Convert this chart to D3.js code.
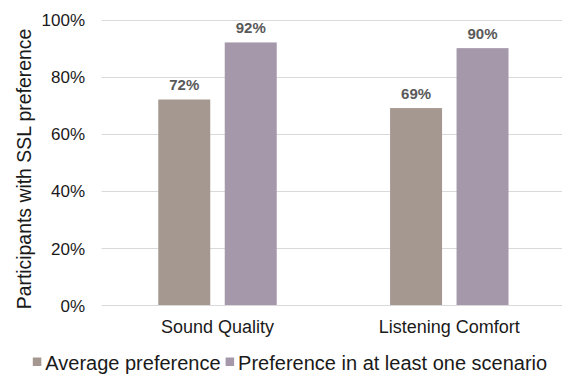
<!DOCTYPE html>
<html>
<head>
<meta charset="utf-8">
<script src="https://cdn.jsdelivr.net/npm/d3@7"></script>
<style>
  html, body { margin: 0; padding: 0; background: #fff; }
  svg { display: block; font-family: "Liberation Sans", Arial, sans-serif; }
</style>
</head>
<body>
<svg id="chart" width="562" height="374"></svg>
<script>
// Categories, series and values
const categories = ["Sound Quality", "Listening Comfort"];
const seriesNames = ["Average preference", "Preference in at least one scenario"];
const averagePreference = [72, 69];
const preferenceAtLeastOne = [92, 90];
const yTicks = [0, 20, 40, 60, 80, 100];
const seriesColors = ["#a59890", "#a598aa"];

const seriesValues = [averagePreference, preferenceAtLeastOne];
const rows = categories.map((c, i) => ({
  category: c,
  values: seriesNames.map((s, j) => ({ series: s, value: seriesValues[j][i], idx: j }))
}));

const svg = d3.select("#chart");
const W = 562, H = 374;
const plot = { left: 101.6, right: 565.2, top: 19.6, bottom: 305 };
const FONT = "'Liberation Sans', Arial, sans-serif";

const y = d3.scaleLinear().domain([0, 100]).range([plot.bottom, plot.top]);
const x0 = d3.scaleBand().domain(categories)
  .range([plot.left, plot.right]).paddingInner(0.489).paddingOuter(0.2445);
const x1 = d3.scaleBand().domain(seriesNames)
  .range([0, x0.bandwidth()]).paddingInner(0.218).paddingOuter(0);

// Gridlines
svg.append("g")
  .selectAll("line")
  .data(yTicks)
  .join("line")
  .attr("x1", plot.left)
  .attr("x2", W)
  .attr("y1", d => Math.round(y(d)) + 0.5)
  .attr("y2", d => Math.round(y(d)) + 0.5)
  .attr("stroke", "#d9d9d9")
  .attr("stroke-width", 1.2);

// Y axis tick labels
const yAxis = d3.axisLeft(y).tickValues(yTicks).tickFormat(d => d + "%").tickSize(0).tickPadding(0);
const gy = svg.append("g").attr("transform", "translate(85,0)").call(yAxis);
gy.attr("font-size", null).attr("font-family", null);
gy.select(".domain").remove();
gy.selectAll("text")
  .style("font-size", "17px")
  .style("font-family", FONT)
  .attr("fill", "#1a1a1a")
  .attr("dy", "0.36em");

// Y axis title
svg.append("text")
  .attr("transform", `translate(31,169) rotate(-90)`)
  .attr("text-anchor", "middle")
  .style("font-size", "19.4px")
  .attr("fill", "#1a1a1a")
  .text("Participants with SSL preference");

// Bars
const groups = svg.append("g")
  .selectAll("g")
  .data(rows)
  .join("g")
  .attr("transform", d => `translate(${x0(d.category)},0)`);

groups.selectAll("rect")
  .data(d => d.values)
  .join("rect")
  .attr("x", d => x1(d.series))
  .attr("width", x1.bandwidth())
  .attr("y", d => y(d.value))
  .attr("height", d => y(0) - y(d.value))
  .attr("fill", d => seriesColors[d.idx]);

// Value labels
groups.selectAll("text")
  .data(d => d.values)
  .join("text")
  .attr("x", d => x1(d.series) + x1.bandwidth() / 2)
  .attr("y", d => y(d.value) - 9.5)
  .attr("text-anchor", "middle")
  .style("font-size", "15px")
  .attr("font-weight", "bold")
  .attr("fill", "#595959")
  .text(d => d.value + "%");

// Category axis labels
const xAxis = d3.axisBottom(x0).tickSize(0).tickPadding(0);
const gx = svg.append("g").attr("transform", "translate(0,333)").call(xAxis);
gx.attr("font-size", null).attr("font-family", null);
gx.select(".domain").remove();
gx.selectAll("text")
  .style("font-size", "18px")
  .style("font-family", FONT)
  .attr("fill", "#1a1a1a")
  .attr("dy", 0);

// Legend
const legend = svg.append("g").attr("transform", "translate(0,370)");
const items = legend.selectAll("g")
  .data(seriesNames)
  .join("g");
items.append("rect")
  .attr("width", 8.5)
  .attr("height", 8.5)
  .attr("y", -12.5)
  .attr("fill", (d, i) => seriesColors[i]);
items.append("text")
  .attr("x", 12.5)
  .style("font-size", "20px")
  .attr("fill", "#1a1a1a")
  .text(d => d);

const widths = [];
items.each(function () {
  widths.push(12.5 + d3.select(this).select("text").node().getComputedTextLength());
});
const gap = 5;
const total = d3.sum(widths) + gap * (widths.length - 1);
let cx = 290 - total / 2;
items.attr("transform", (d, i) => {
  const t = `translate(${cx},0)`;
  cx += widths[i] + gap;
  return t;
});
</script>
</body>
</html>
